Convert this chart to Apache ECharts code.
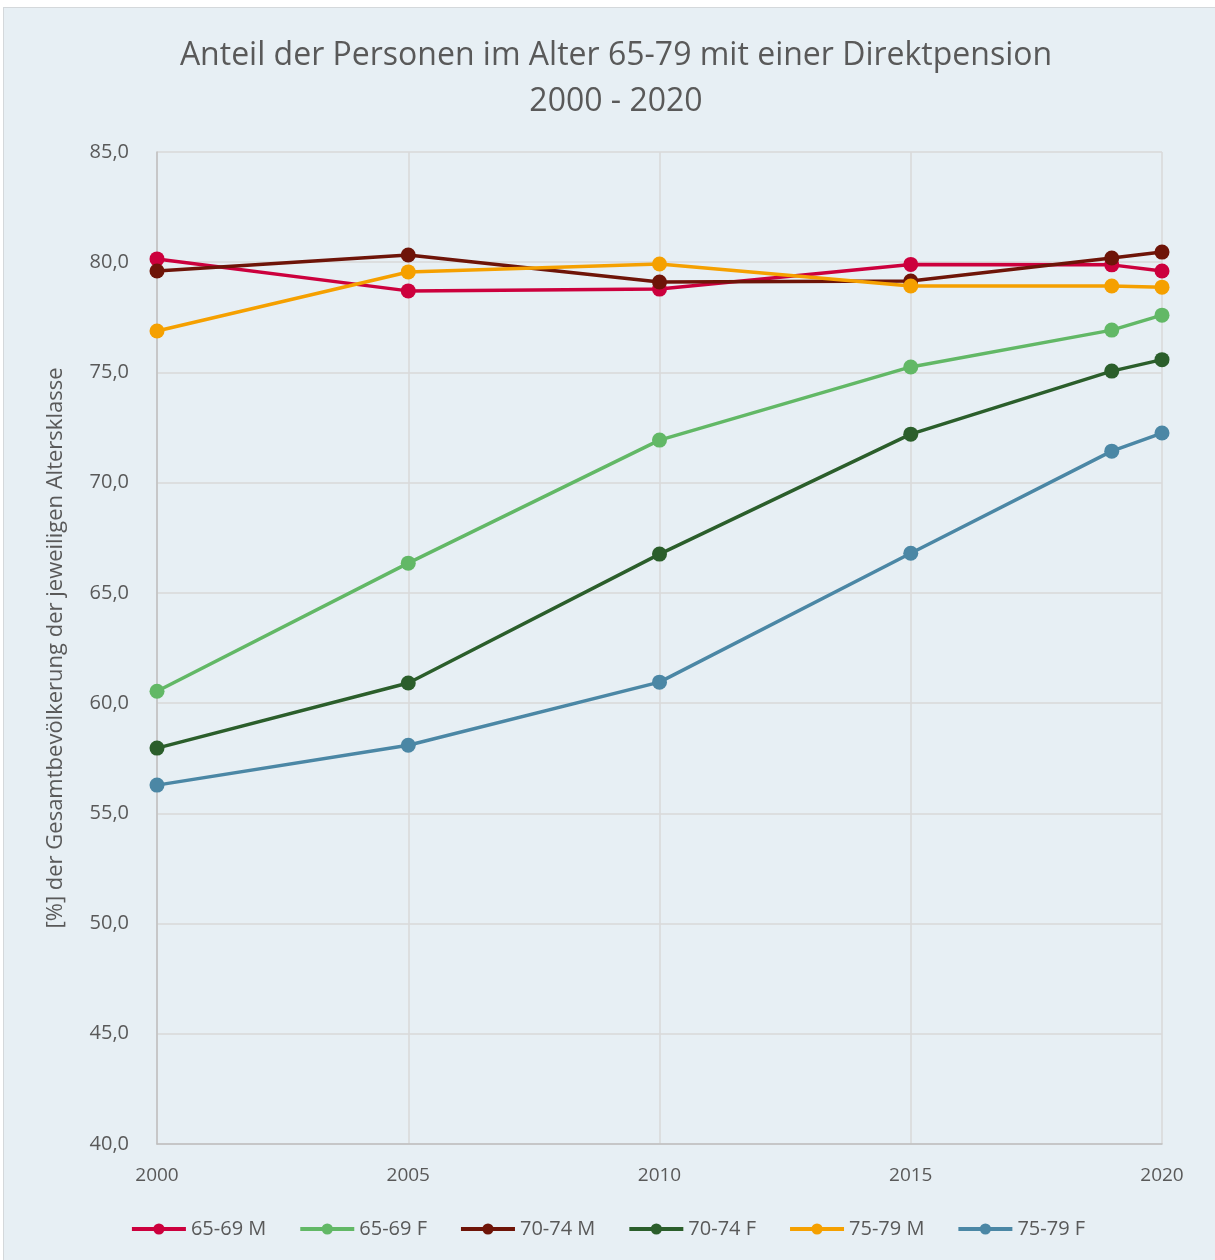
<!DOCTYPE html>
<html>
<head>
<meta charset="utf-8">
<script src="https://cdn.jsdelivr.net/npm/echarts@6/dist/echarts.min.js"></script>
<style>
html,body{margin:0;padding:0;background:#fff;}
#wrap{position:absolute;left:3px;top:7px;width:1220px;height:1260px;background:#e7eff4;border:1px solid #d4d8db;box-sizing:border-box;}
#c{position:absolute;left:0;top:0;width:1215px;height:1260px;}
</style>
</head>
<body>
<div id="wrap"></div>
<div id="c"></div>
<script>
const years = [2000, 2005, 2010, 2015, 2019, 2020];
const seriesNames = ['65-69 M', '65-69 F', '70-74 M', '70-74 F', '75-79 M', '75-79 F'];
const m6569 = [80.15, 78.7, 78.78, 79.9, 79.88, 79.6];
const f6569 = [60.54, 66.35, 71.93, 75.25, 76.92, 77.6];
const m7074 = [79.6, 80.33, 79.1, 79.15, 80.19, 80.46];
const f7074 = [57.96, 60.91, 66.76, 72.2, 75.06, 75.58];
const m7579 = [76.88, 79.56, 79.92, 78.92, 78.92, 78.87];
const f7579 = [56.28, 58.09, 60.95, 66.8, 71.43, 72.25];
const colors = ['#cc003d', '#62b866', '#6e1408', '#2b5e2b', '#f5a000', '#4b87a5'];
const allValues = [m6569, f6569, m7074, f7074, m7579, f7579];

const font = "'Open Sans', 'Noto Sans', sans-serif";
const chart = echarts.init(document.getElementById('c'));
chart.setOption({
  backgroundColor: 'transparent',
  textStyle: {fontFamily: font},
  title: {
    text: 'Anteil der Personen im Alter 65-79 mit einer Direktpension\n2000 - 2020',
    left: 611, top: 28, textAlign: 'center',
    textStyle: {fontFamily: font, fontSize: 32, fontWeight: 'normal', color: '#595959', lineHeight: 46}
  },
  grid: {left: 157, right: 53, top: 152, bottom: 116, containLabel: false},
  xAxis: {
    type: 'value', min: 2000, max: 2020, interval: 5,
    axisLine: {show: true, lineStyle: {color: '#bfbfbf', width: 1.5}},
    axisTick: {show: false},
    splitLine: {show: true, lineStyle: {color: '#d9d9d9', width: 1.5}},
    axisLabel: {color: '#595959', fontSize: 19, margin: 22, fontFamily: font,
      formatter: v => String(v)}
  },
  yAxis: {
    type: 'value', min: 40, max: 85, interval: 5,
    name: '[%] der Gesamtbevölkerung der jeweiligen Altersklasse',
    nameLocation: 'middle', nameGap: 90,
    nameTextStyle: {color: '#595959', fontSize: 22, fontFamily: font},
    axisLine: {show: true, lineStyle: {color: '#bfbfbf', width: 1.5}},
    axisTick: {show: false},
    splitLine: {show: true, lineStyle: {color: '#d9d9d9', width: 1.5}},
    axisLabel: {color: '#595959', fontSize: 20, margin: 28, fontFamily: font,
      formatter: v => v.toFixed(1).replace('.', ',')}
  },
  legend: {
    bottom: 16, left: 'center', itemWidth: 54, itemHeight: 14, itemGap: 32,
    textStyle: {color: '#595959', fontSize: 20, fontFamily: font},
    lineStyle: {width: 4},
    data: seriesNames
  },
  series: seriesNames.map((n, i) => ({
    name: n, type: 'line',
    data: years.map((y, j) => [y, allValues[i][j]]),
    symbol: 'circle', symbolSize: 15,
    lineStyle: {color: colors[i], width: 3.5},
    itemStyle: {color: colors[i]},
    z: 2
  }))
});
</script>
</body>
</html>
